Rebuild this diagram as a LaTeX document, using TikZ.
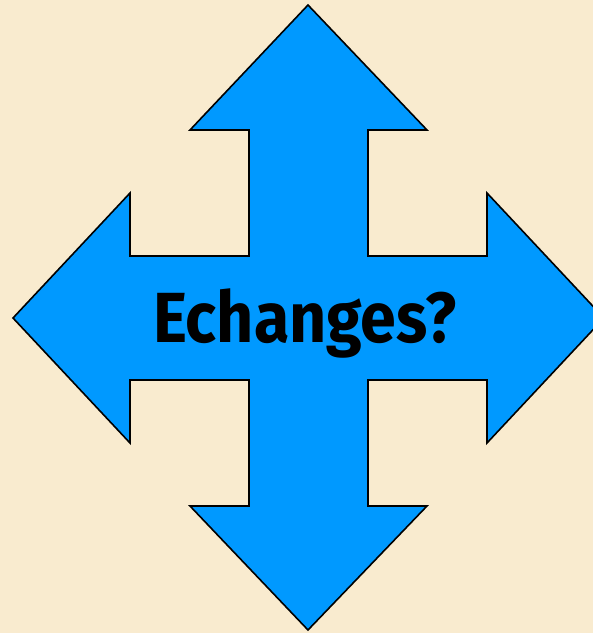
\documentclass[tikz,border=0pt]{standalone}
\usepackage{fontspec}
\setsansfont{Fira Sans}
\usepackage{xcolor}
\usetikzlibrary{positioning}

\definecolor{paper}{RGB}{249,235,207}
\definecolor{arrowblue}{RGB}{0,153,255}

\begin{document}
\begin{tikzpicture}[
    x=1pt, y=-1pt,
    cross/.style={draw=black, line width=1.6pt, fill=arrowblue, line join=miter},
    title/.style={font=\sffamily\bfseries\fontsize{71}{80}\selectfont, text=black, inner sep=0pt}
]
    % Background
    \fill[paper] (0,0) rectangle (593,633);
    \useasboundingbox (0,0) rectangle (593,633);
    \clip (0,0) rectangle (593,633);
    % Four-way arrow
    \draw[cross] (308,5) -- (427,130) -- (368,130) -- (368,256) -- (487,256)
        -- (487,193) -- (604,318) -- (487,443) -- (487,380) -- (368,380)
        -- (368,506) -- (427,506) -- (308,630) -- (190,506) -- (249,506)
        -- (249,380) -- (130,380) -- (130,443) -- (13,318) -- (130,193)
        -- (130,256) -- (249,256) -- (249,130) -- (190,130) -- cycle;
    % Label
    \node[title, anchor=base] (question) at (305,342) {\scalebox{0.91}[1]{Echanges?}};
\end{tikzpicture}
\end{document}
